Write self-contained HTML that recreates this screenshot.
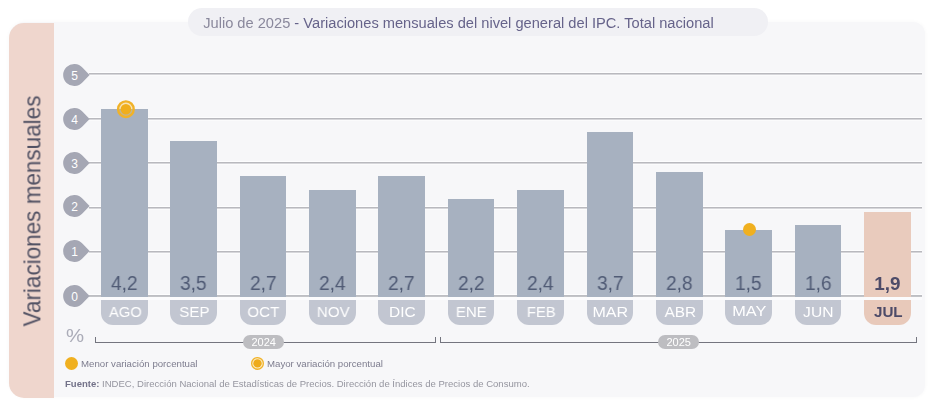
<!DOCTYPE html>
<html><head><meta charset="utf-8"><style>
*{margin:0;padding:0;box-sizing:border-box}
html,body{width:929px;height:400px;overflow:hidden;background:#fff}
body{position:relative;font-family:"Liberation Sans",Arial,sans-serif;-webkit-font-smoothing:antialiased}
.title,.vt,.val,.lb span,.lg,.src,.pct,.yp{will-change:transform}
.card{position:absolute;left:9px;top:22px;width:916px;height:374.5px;background:#f7f7f9;border-radius:16px 12px 12px 16px;box-shadow:0 0 4px rgba(0,0,0,0.035)}
.side{position:absolute;left:9.3px;top:23px;width:44.4px;height:375px;background:#efd6cd;border-radius:15px 0 0 15px}
.vt{position:absolute;left:32.6px;top:211.2px;transform:translate(-50%,-50%) rotate(-90deg) scaleX(0.97);font-size:23.2px;color:#505062;white-space:nowrap;line-height:1}
.title{position:absolute;left:188px;top:8.4px;width:580px;height:27.6px;border-radius:14px;background:#f0f0f4;font-size:14.65px;line-height:30.2px;padding-left:15.2px;color:#66638a;white-space:nowrap}
.title .d{color:#8a889c}
.gl{position:absolute;left:89px;width:833px;height:2px;background:linear-gradient(#b9b9be 50%,#d6d6da 50%);box-shadow:0 -1px 0 #fdfdfe,0 1px 0 #fbfbfc}
.gl.z{background:linear-gradient(#bdbec3 50%,#c3c4c8 50%)}
.gap{position:absolute;left:89px;width:833px;top:297px;height:2.8px;background:#fbfbfd}
.mk{position:absolute;left:63px}
.mk text{font-family:"Liberation Sans",Arial,sans-serif;font-size:12px;fill:#fff}
.bar{position:absolute;width:46.6px;background:#a7b1c0}
.bar.jul{background:#e9cbbd}
.val{position:absolute;width:46.6px;text-align:center;font-size:20.0px;line-height:20.0px;color:#505b75;transform:scaleX(0.96)}
.val.jul{font-weight:bold;color:#4d4b68;font-size:18.9px;line-height:21px;transform:none}
.lb{position:absolute;top:299.6px;width:46.6px;height:25px;border-radius:0 0 12px 12px;background:#c2c6d1;color:#fff;font-size:15.4px;line-height:15.4px;text-align:center}
.lb span{position:absolute;left:0.6px;right:-0.6px;top:3.96px;display:block}
.lb.jul{background:#e8c9ba;color:#4d4b68;font-weight:bold}
.lb.jul span{transform:none;font-size:15.2px}
.pct{position:absolute;left:66.3px;top:325.9px;font-size:19px;color:#abacb8;line-height:1;transform-origin:0 0;transform:scaleX(1.07)}
.br{position:absolute;top:341.7px;height:1.1px;background:#74757f}
.tk{position:absolute;top:337.3px;width:1.1px;height:5px;background:#74757f}
.yp{position:absolute;top:335.4px;width:41.3px;height:14px;border-radius:7px;background:#bdbdc1;color:#fff;font-size:11px;line-height:14px;text-align:center}
.dot{position:absolute;width:13.6px;height:13.6px;border-radius:50%;background:#f0b020}
.lg{position:absolute;top:358.6px;font-size:9.67px;color:#7d7c8e;white-space:nowrap;line-height:1}
.src{position:absolute;left:65px;top:378.5px;font-size:9.54px;color:#95959f;white-space:nowrap;line-height:1}
.src b{color:#737289}
</style></head><body>
<div class="card"></div>
<div class="side"></div>
<div class="vt">Variaciones mensuales</div>
<div class="title"><span class="d">Julio de 2025</span> - Variaciones mensuales del nivel general del IPC. Total nacional</div>
<div class="gap"></div>
<div class="gl z" style="top:295px"></div>
<div class="gl" style="top:251px"></div>
<div class="gl" style="top:207px"></div>
<div class="gl" style="top:162px"></div>
<div class="gl" style="top:118px"></div>
<div class="gl" style="top:73px"></div>
<svg class="mk" style="top:284.00px" width="30" height="24" viewBox="0 0 30 24"><path d="M26.6 12 L19.6 4.69 A11.1 11.1 0 1 0 19.6 19.31 Z" fill="#a5a7b4"/><text x="11.5" y="17.0" text-anchor="middle">0</text></svg>
<svg class="mk" style="top:239.20px" width="30" height="24" viewBox="0 0 30 24"><path d="M26.6 12 L19.6 4.69 A11.1 11.1 0 1 0 19.6 19.31 Z" fill="#a5a7b4"/><text x="11.5" y="17.0" text-anchor="middle">1</text></svg>
<svg class="mk" style="top:193.90px" width="30" height="24" viewBox="0 0 30 24"><path d="M26.6 12 L19.6 4.69 A11.1 11.1 0 1 0 19.6 19.31 Z" fill="#a5a7b4"/><text x="11.5" y="17.0" text-anchor="middle">2</text></svg>
<svg class="mk" style="top:151.30px" width="30" height="24" viewBox="0 0 30 24"><path d="M26.6 12 L19.6 4.69 A11.1 11.1 0 1 0 19.6 19.31 Z" fill="#a5a7b4"/><text x="11.5" y="17.0" text-anchor="middle">3</text></svg>
<svg class="mk" style="top:106.60px" width="30" height="24" viewBox="0 0 30 24"><path d="M26.6 12 L19.6 4.69 A11.1 11.1 0 1 0 19.6 19.31 Z" fill="#a5a7b4"/><text x="11.5" y="17.0" text-anchor="middle">4</text></svg>
<svg class="mk" style="top:63.30px" width="30" height="24" viewBox="0 0 30 24"><path d="M26.6 12 L19.6 4.69 A11.1 11.1 0 1 0 19.6 19.31 Z" fill="#a5a7b4"/><text x="11.5" y="17.0" text-anchor="middle">5</text></svg>
<div class="bar" style="left:101.00px;top:109.26px;height:187.74px"></div>
<div class="val" style="left:101.00px;top:272.97px">4,2</div>
<div class="lb" style="left:101.00px"><span style="transform:scaleX(0.958)">AGO</span></div>
<div class="bar" style="left:170.37px;top:140.55px;height:156.45px"></div>
<div class="val" style="left:170.37px;top:272.97px">3,5</div>
<div class="lb" style="left:170.37px"><span style="transform:scaleX(0.981)">SEP</span></div>
<div class="bar" style="left:239.74px;top:176.31px;height:120.69px"></div>
<div class="val" style="left:239.74px;top:272.97px">2,7</div>
<div class="lb" style="left:239.74px"><span style="transform:scaleX(0.977)">OCT</span></div>
<div class="bar" style="left:309.11px;top:189.72px;height:107.28px"></div>
<div class="val" style="left:309.11px;top:272.97px">2,4</div>
<div class="lb" style="left:309.11px"><span style="transform:scaleX(0.974)">NOV</span></div>
<div class="bar" style="left:378.48px;top:176.31px;height:120.69px"></div>
<div class="val" style="left:378.48px;top:272.97px">2,7</div>
<div class="lb" style="left:378.48px"><span style="transform:scaleX(1.004)">DIC</span></div>
<div class="bar" style="left:447.85px;top:198.66px;height:98.34px"></div>
<div class="val" style="left:447.85px;top:272.97px">2,2</div>
<div class="lb" style="left:447.85px"><span style="transform:scaleX(0.977)">ENE</span></div>
<div class="bar" style="left:517.22px;top:189.72px;height:107.28px"></div>
<div class="val" style="left:517.22px;top:272.97px">2,4</div>
<div class="lb" style="left:517.22px"><span style="transform:scaleX(0.958)">FEB</span></div>
<div class="bar" style="left:586.59px;top:131.61px;height:165.39px"></div>
<div class="val" style="left:586.59px;top:272.97px">3,7</div>
<div class="lb" style="left:586.59px"><span style="transform:scaleX(1.042)">MAR</span></div>
<div class="bar" style="left:655.96px;top:171.84px;height:125.16px"></div>
<div class="val" style="left:655.96px;top:272.97px">2,8</div>
<div class="lb" style="left:655.96px"><span style="transform:scaleX(0.995)">ABR</span></div>
<div class="bar" style="left:725.33px;top:229.95px;height:67.05px"></div>
<div class="val" style="left:725.33px;top:272.97px">1,5</div>
<div class="lb" style="left:725.33px"><span style="transform:scaleX(1.060);top:2.96px">MAY</span></div>
<div class="bar" style="left:794.70px;top:225.48px;height:71.52px"></div>
<div class="val" style="left:794.70px;top:272.97px">1,6</div>
<div class="lb" style="left:794.70px"><span style="transform:scaleX(1.014)">JUN</span></div>
<div class="bar jul" style="left:864.07px;top:212.07px;height:84.93px"></div>
<div class="val jul" style="left:864.07px;top:272.97px">1,9</div>
<div class="lb jul" style="left:864.07px"><span>JUL</span></div>
<div class="pct">%</div>
<div class="br" style="left:95px;width:341px"></div>
<div class="tk" style="left:95px"></div>
<div class="tk" style="left:435.3px"></div>
<div class="br" style="left:440px;width:476.5px"></div>
<div class="tk" style="left:440px"></div>
<div class="tk" style="left:915.5px"></div>
<div class="yp" style="left:242.7px">2024</div>
<div class="yp" style="left:658.4px">2025</div>
<div class="dot" style="left:64.8px;top:356.8px"></div>
<div class="lg" style="left:81px">Menor variación porcentual</div>
<svg style="position:absolute;left:249px;top:355px" width="18" height="18" viewBox="0 0 18 18"><circle cx="8.5" cy="8.4" r="5.85" fill="#fbeecd" stroke="#f1b228" stroke-width="1.3"/><circle cx="8.5" cy="8.4" r="4.2" fill="#eeab1c"/></svg>
<div class="lg" style="left:267px">Mayor variación porcentual</div>
<svg style="position:absolute;left:115px;top:98px" width="22" height="22" viewBox="0 0 22 22"><circle cx="10.9" cy="11.2" r="7.8" fill="rgba(245,190,60,0.35)" stroke="#f1b228" stroke-width="2.4"/><circle cx="10.9" cy="11.2" r="5.3" fill="#f0ae1c"/></svg>
<div class="dot" style="left:742.5px;top:222.8px"></div>
<div class="src"><b>Fuente:</b> INDEC, Dirección Nacional de Estadísticas de Precios. Dirección de Índices de Precios de Consumo.</div>
</body></html>
